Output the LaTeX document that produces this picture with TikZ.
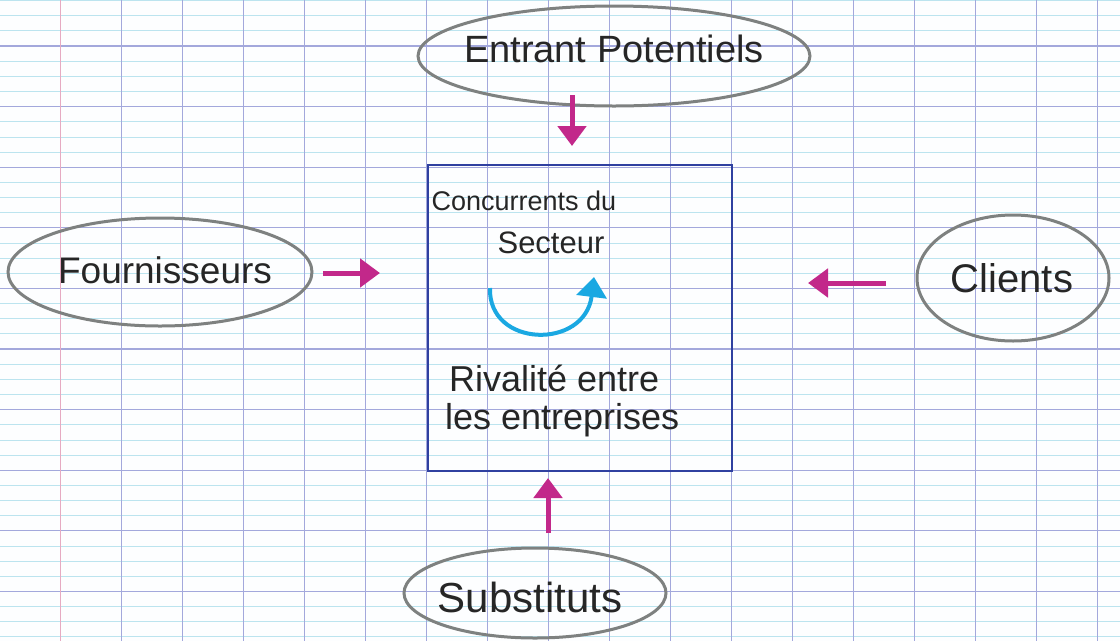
\documentclass[tikz,border=0pt]{standalone}
\usepackage{fontspec}
\setmainfont{Liberation Sans}
\usetikzlibrary{shapes.geometric,arrows.meta}
\definecolor{paper}{HTML}{FDFEFF}
\definecolor{lightrule}{HTML}{BCE4EF}
\definecolor{darkrule}{HTML}{A3A8DC}
\definecolor{margin}{HTML}{E6AAC2}
\definecolor{pencil}{HTML}{7E8180}
\definecolor{ink}{HTML}{262626}
\definecolor{navy}{HTML}{2F40A0}
\definecolor{pinkmark}{HTML}{C2288A}
\definecolor{cyanmark}{HTML}{1AA8E2}
\tikzset{
  bubble/.style={ellipse, draw=pencil, line width=3pt, inner sep=0pt},
  hand/.style={text=ink, inner sep=0pt},
  framebox/.style={rectangle, draw=navy, line width=2.6pt, inner sep=0pt},
  pinkarrow/.style={draw=pinkmark, line width=5pt, -{Triangle[width=28pt,length=20pt]}},
  cyanarrow/.style={draw=cyanmark, line width=4pt, -{Triangle[width=30pt,length=20pt]}},
  lightline/.style={draw=lightrule, line width=0.8pt},
  darkline/.style={draw=darkrule, line width=1.1pt},
  vline/.style={draw=darkrule, line width=1pt},
  marginline/.style={draw=margin, line width=1pt}
}
\begin{document}
\begin{tikzpicture}[x=1pt,y=-1pt]
\useasboundingbox (0,0) rectangle (1120,641);
\fill[paper] (0,0) rectangle (1120,641);
% Seyes ruling
\foreach \k in {0,...,42} {
  \pgfmathsetmacro\yy{0.55+15.15*\k}
  \draw[lightline] (0,\yy) -- (1120,\yy);
}
\foreach \k in {0,...,9} {
  \pgfmathsetmacro\yy{46+60.6*\k}
  \draw[darkline] (0,\yy) -- (1120,\yy);
}
\foreach \k in {1,...,17} {
  \pgfmathsetmacro\xx{60+61*\k}
  \draw[vline] (\xx,0) -- (\xx,641);
}
\draw[marginline] (60,0) -- (60,641);

% central box
\node[framebox, minimum width=304pt, minimum height=306pt] (box) at (580,318) {};
\node[hand, font=\fontsize{27}{30}\selectfont] (conc) at (524,201) {Concurrents du};
\node[hand, font=\fontsize{31}{33}\selectfont] (sect) at (551,243) {Secteur};
\node[hand, font=\fontsize{36}{38}\selectfont, anchor=west] (riv) at (449,378) {Rivalité entre};
\node[hand, font=\fontsize{36}{38}\selectfont, anchor=west] (entr) at (445,420) {les entreprises};
\coordinate (rivs) at (490,288);
\coordinate (rive) at (594,277);
\draw[cyanarrow] (rivs) .. controls (488,348) and (585,350) .. (rive);

% surrounding forces
\node[bubble, minimum width=392pt, minimum height=100pt] (top) at (614,56) {};
\node[hand, font=\fontsize{38}{40}\selectfont] (toptext) at (614,49) {Entrant Potentiels};

\node[bubble, minimum width=304pt, minimum height=108pt] (left) at (160,272) {};
\node[hand, font=\fontsize{37}{40}\selectfont] (lefttext) at (165,270) {Fournisseurs};

\node[bubble, minimum width=192pt, minimum height=126pt] (right) at (1013,278) {};
\node[hand, font=\fontsize{40}{42}\selectfont] (righttext) at (1012,278) {Clients};

\node[bubble, minimum width=262pt, minimum height=90pt] (bottom) at (535,593) {};
\node[hand, font=\fontsize{42}{44}\selectfont] (bottomtext) at (530,597) {Substituts};

% arrows
\coordinate (ta) at (572,95);
\coordinate (tb) at (572,146);
\draw[pinkarrow] (ta) -- (tb);
\coordinate (la) at (323,273);
\coordinate (lb) at (380,273);
\draw[pinkarrow] (la) -- (lb);
\coordinate (ra) at (886,283);
\coordinate (rb) at (808,283);
\draw[pinkarrow] (ra) -- (rb);
\coordinate (ba) at (548,533);
\coordinate (bb) at (548,478);
\draw[pinkarrow] (ba) -- (bb);
\end{tikzpicture}
\end{document}
